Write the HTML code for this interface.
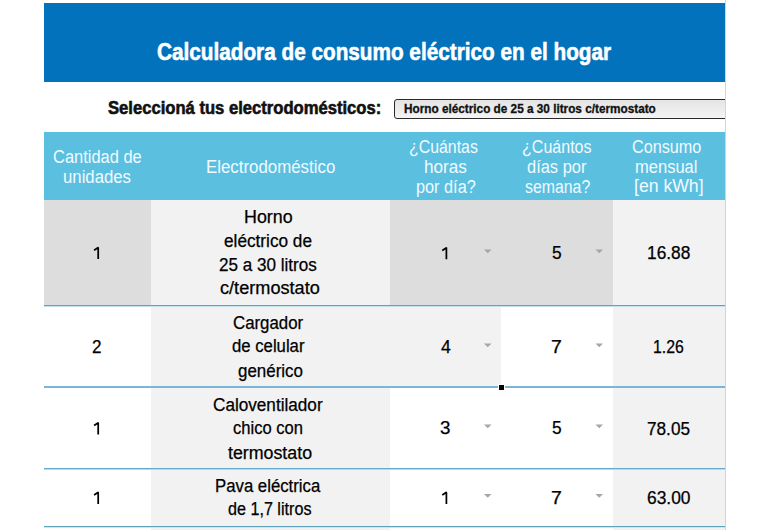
<!DOCTYPE html>
<html><head><meta charset="utf-8">
<style>
html,body{margin:0;padding:0;background:#fff;width:770px;height:530px;overflow:hidden;position:relative;font-family:"Liberation Sans",sans-serif;}
.b{position:absolute;}
.t{position:absolute;white-space:pre;transform-origin:0 0;font-family:"Liberation Sans",sans-serif;}
</style></head><body>
<!-- title bar -->
<div class="b" style="left:44px;top:3px;width:681px;height:79px;background:#0272bc"></div>
<!-- dropdown -->
<div class="b" style="left:394px;top:99px;width:340px;height:18px;border:1px solid #2a2a2a;border-radius:3px;background:linear-gradient(#e4e4e4,#f4f4f4)"></div>
<!-- header -->
<div class="b" style="left:44px;top:132px;width:681px;height:68px;background:#5bbfe0"></div>
<!-- row1 -->
<div class="b" style="left:44px;top:200px;width:107px;height:105px;background:#dddddd"></div>
<div class="b" style="left:151px;top:200px;width:239px;height:105px;background:#f2f2f2"></div>
<div class="b" style="left:390px;top:200px;width:223px;height:105px;background:#dddddd"></div>
<div class="b" style="left:613px;top:200px;width:112px;height:105px;background:#f2f2f2"></div>
<!-- col2, col5 light gray rows 2-5 -->
<div class="b" style="left:151px;top:305px;width:239px;height:225px;background:#f2f2f2"></div>
<div class="b" style="left:613px;top:305px;width:112px;height:225px;background:#f2f2f2"></div>
<div class="b" style="left:390px;top:305px;width:111px;height:82px;background:#f2f2f2"></div>
<!-- lines -->
<div class="b" style="left:44px;top:305px;width:681px;height:1px;background:#5ea6c0"></div>
<div class="b" style="left:44px;top:306px;width:681px;height:1px;background:#c2e2ee"></div>
<div class="b" style="left:44px;top:386px;width:681px;height:2px;background:#7cb6d6"></div>
<div class="b" style="left:44px;top:468px;width:681px;height:1px;background:#68aacb"></div>
<div class="b" style="left:44px;top:469px;width:681px;height:1px;background:#b4d9ec"></div>
<div class="b" style="left:44px;top:526px;width:681px;height:1px;background:#5ea4bc"></div>
<div class="b" style="left:44px;top:527px;width:681px;height:1px;background:#c8e8f0"></div>
<!-- right edge -->
<div class="b" style="left:725px;top:0px;width:1px;height:530px;background:#d4d4d4"></div>
<div class="b" style="left:726px;top:0px;width:44px;height:530px;background:#fff"></div>
<!-- fill handle -->
<div class="b" style="left:498px;top:384px;width:7px;height:7px;background:#fff"></div>
<div class="b" style="left:499px;top:385px;width:5px;height:5px;background:#000"></div>
<!-- arrows -->
<svg class="b" style="left:0;top:0" width="770" height="530">
<g fill="#a6a6a6">
<path d="M484 249.5h7.5l-3.75 3.75z"/>
<path d="M595.5 249.5h7.5l-3.75 3.75z"/>
<path d="M484 343.5h7.5l-3.75 3.75z"/>
<path d="M595.5 343.5h7.5l-3.75 3.75z"/>
<path d="M484 424.5h7.5l-3.75 3.75z"/>
<path d="M595.5 424.5h7.5l-3.75 3.75z"/>
<path d="M484 494h7.5l-3.75 3.75z"/>
<path d="M595.5 494h7.5l-3.75 3.75z"/>
</g></svg>
<svg class="b" style="left:0;top:0" width="770" height="530"><g fill="none" stroke="#000" stroke-width="1.75" stroke-linejoin="round"><path d="M94.10 250.20 L97.90 247.70 L98.20 247.90 L98.20 259.10"/><path d="M94.10 425.50 L97.90 423.00 L98.20 423.20 L98.20 434.40"/><path d="M94.10 495.00 L97.90 492.50 L98.20 492.70 L98.20 503.90"/><path d="M442.30 250.40 L446.10 247.90 L446.40 248.10 L446.40 259.30"/><path d="M442.30 495.00 L446.10 492.50 L446.40 492.70 L446.40 503.90"/></g></svg>
<span class="t" style="left:157.22px;top:37.58px;font-size:24px;line-height:28.80px;font-weight:700;color:#ffffff;transform:scaleX(0.8641);-webkit-text-stroke:0.6px #ffffff">Calculadora de consumo eléctrico en el hogar</span>
<span class="t" style="left:107.74px;top:97.56px;font-size:18px;line-height:21.60px;font-weight:700;color:#111;transform:scaleX(0.9227);-webkit-text-stroke:0.6px #111">Seleccioná tus electrodomésticos:</span>
<span class="t" style="left:403.62px;top:102.44px;font-size:12px;line-height:14.40px;font-weight:700;color:#111;transform:scaleX(0.9807);-webkit-text-stroke:0.3px #111">Horno eléctrico de 25 a 30 litros c/termostato</span>
<span class="t" style="left:52.85px;top:146.64px;font-size:17.6px;line-height:21.12px;font-weight:400;color:#f2fbff;transform:scaleX(0.9355);-webkit-text-stroke:0px #f2fbff">Cantidad de</span>
<span class="t" style="left:63.35px;top:166.64px;font-size:17.6px;line-height:21.12px;font-weight:400;color:#f2fbff;transform:scaleX(0.9521);-webkit-text-stroke:0px #f2fbff">unidades</span>
<span class="t" style="left:205.56px;top:156.64px;font-size:17.6px;line-height:21.12px;font-weight:400;color:#f2fbff;transform:scaleX(0.9578);-webkit-text-stroke:0px #f2fbff">Electrodoméstico</span>
<span class="t" style="left:408.61px;top:136.94px;font-size:17.6px;line-height:21.12px;font-weight:400;color:#f2fbff;transform:scaleX(0.9034);-webkit-text-stroke:0px #f2fbff">¿Cuántas</span>
<span class="t" style="left:423.93px;top:156.54px;font-size:17.6px;line-height:21.12px;font-weight:400;color:#f2fbff;transform:scaleX(0.9733);-webkit-text-stroke:0px #f2fbff">horas</span>
<span class="t" style="left:415.58px;top:176.54px;font-size:17.6px;line-height:21.12px;font-weight:400;color:#f2fbff;transform:scaleX(0.9254);-webkit-text-stroke:0px #f2fbff">por día?</span>
<span class="t" style="left:521.90px;top:136.94px;font-size:17.6px;line-height:21.12px;font-weight:400;color:#f2fbff;transform:scaleX(0.9115);-webkit-text-stroke:0px #f2fbff">¿Cuántos</span>
<span class="t" style="left:527.45px;top:156.54px;font-size:17.6px;line-height:21.12px;font-weight:400;color:#f2fbff;transform:scaleX(0.9340);-webkit-text-stroke:0px #f2fbff">días por</span>
<span class="t" style="left:524.94px;top:176.54px;font-size:17.6px;line-height:21.12px;font-weight:400;color:#f2fbff;transform:scaleX(0.9018);-webkit-text-stroke:0px #f2fbff">semana?</span>
<span class="t" style="left:631.56px;top:136.54px;font-size:17.6px;line-height:21.12px;font-weight:400;color:#f2fbff;transform:scaleX(0.9210);-webkit-text-stroke:0px #f2fbff">Consumo</span>
<span class="t" style="left:635.17px;top:156.64px;font-size:17.6px;line-height:21.12px;font-weight:400;color:#f2fbff;transform:scaleX(0.9391);-webkit-text-stroke:0px #f2fbff">mensual</span>
<span class="t" style="left:634.10px;top:176.34px;font-size:17.6px;line-height:21.12px;font-weight:400;color:#f2fbff;transform:scaleX(1.0021);-webkit-text-stroke:0px #f2fbff">[en kWh]</span>
<span class="t" style="left:243.57px;top:207.34px;font-size:17.5px;line-height:21.00px;font-weight:400;color:#000000;transform:scaleX(1.0191);-webkit-text-stroke:0.25px #000000">Horno</span>
<span class="t" style="left:224.31px;top:231.24px;font-size:17.5px;line-height:21.00px;font-weight:400;color:#000000;transform:scaleX(0.9834);-webkit-text-stroke:0.25px #000000">eléctrico de</span>
<span class="t" style="left:218.82px;top:254.74px;font-size:17.5px;line-height:21.00px;font-weight:400;color:#000000;transform:scaleX(0.9752);-webkit-text-stroke:0.25px #000000">25 a 30 litros</span>
<span class="t" style="left:219.87px;top:278.34px;font-size:17.5px;line-height:21.00px;font-weight:400;color:#000000;transform:scaleX(1.0364);-webkit-text-stroke:0.25px #000000">c/termostato</span>
<span class="t" style="left:552.31px;top:243.24px;font-size:17.5px;line-height:21.00px;font-weight:400;color:#000000;transform:scaleX(0.9880);-webkit-text-stroke:0.25px #000000">5</span>
<span class="t" style="left:646.51px;top:243.14px;font-size:17.5px;line-height:21.00px;font-weight:400;color:#000000;transform:scaleX(0.9890);-webkit-text-stroke:0.25px #000000">16.88</span>
<span class="t" style="left:92.42px;top:337.04px;font-size:17.5px;line-height:21.00px;font-weight:400;color:#000000;transform:scaleX(0.9753);-webkit-text-stroke:0.25px #000000">2</span>
<span class="t" style="left:232.83px;top:313.14px;font-size:17.5px;line-height:21.00px;font-weight:400;color:#000000;transform:scaleX(0.9607);-webkit-text-stroke:0.25px #000000">Cargador</span>
<span class="t" style="left:231.73px;top:336.44px;font-size:17.5px;line-height:21.00px;font-weight:400;color:#000000;transform:scaleX(0.9553);-webkit-text-stroke:0.25px #000000">de celular</span>
<span class="t" style="left:237.52px;top:360.74px;font-size:17.5px;line-height:21.00px;font-weight:400;color:#000000;transform:scaleX(0.9681);-webkit-text-stroke:0.25px #000000">genérico</span>
<span class="t" style="left:440.60px;top:337.04px;font-size:17.5px;line-height:21.00px;font-weight:400;color:#000000;transform:scaleX(1.0112);-webkit-text-stroke:0.25px #000000">4</span>
<span class="t" style="left:551.11px;top:337.04px;font-size:17.5px;line-height:21.00px;font-weight:400;color:#000000;transform:scaleX(1.1111);-webkit-text-stroke:0.25px #000000">7</span>
<span class="t" style="left:652.82px;top:336.84px;font-size:17.5px;line-height:21.00px;font-weight:400;color:#000000;transform:scaleX(0.9055);-webkit-text-stroke:0.25px #000000">1.26</span>
<span class="t" style="left:212.82px;top:394.74px;font-size:17.5px;line-height:21.00px;font-weight:400;color:#000000;transform:scaleX(0.9798);-webkit-text-stroke:0.25px #000000">Caloventilador</span>
<span class="t" style="left:232.94px;top:417.84px;font-size:17.5px;line-height:21.00px;font-weight:400;color:#000000;transform:scaleX(0.9459);-webkit-text-stroke:0.25px #000000">chico con</span>
<span class="t" style="left:228.00px;top:442.74px;font-size:17.5px;line-height:21.00px;font-weight:400;color:#000000;transform:scaleX(1.0166);-webkit-text-stroke:0.25px #000000">termostato</span>
<span class="t" style="left:440.36px;top:418.44px;font-size:17.5px;line-height:21.00px;font-weight:400;color:#000000;transform:scaleX(1.0714);-webkit-text-stroke:0.25px #000000">3</span>
<span class="t" style="left:552.31px;top:418.44px;font-size:17.5px;line-height:21.00px;font-weight:400;color:#000000;transform:scaleX(0.9880);-webkit-text-stroke:0.25px #000000">5</span>
<span class="t" style="left:647.01px;top:418.64px;font-size:17.5px;line-height:21.00px;font-weight:400;color:#000000;transform:scaleX(0.9820);-webkit-text-stroke:0.25px #000000">78.05</span>
<span class="t" style="left:214.66px;top:476.14px;font-size:17.5px;line-height:21.00px;font-weight:400;color:#000000;transform:scaleX(0.9578);-webkit-text-stroke:0.25px #000000">Pava eléctrica</span>
<span class="t" style="left:228.35px;top:498.54px;font-size:17.5px;line-height:21.00px;font-weight:400;color:#000000;transform:scaleX(0.9225);-webkit-text-stroke:0.25px #000000">de 1,7 litros</span>
<span class="t" style="left:551.11px;top:487.94px;font-size:17.5px;line-height:21.00px;font-weight:400;color:#000000;transform:scaleX(1.1111);-webkit-text-stroke:0.25px #000000">7</span>
<span class="t" style="left:647.00px;top:487.84px;font-size:17.5px;line-height:21.00px;font-weight:400;color:#000000;transform:scaleX(0.9939);-webkit-text-stroke:0.25px #000000">63.00</span>
</body></html>
